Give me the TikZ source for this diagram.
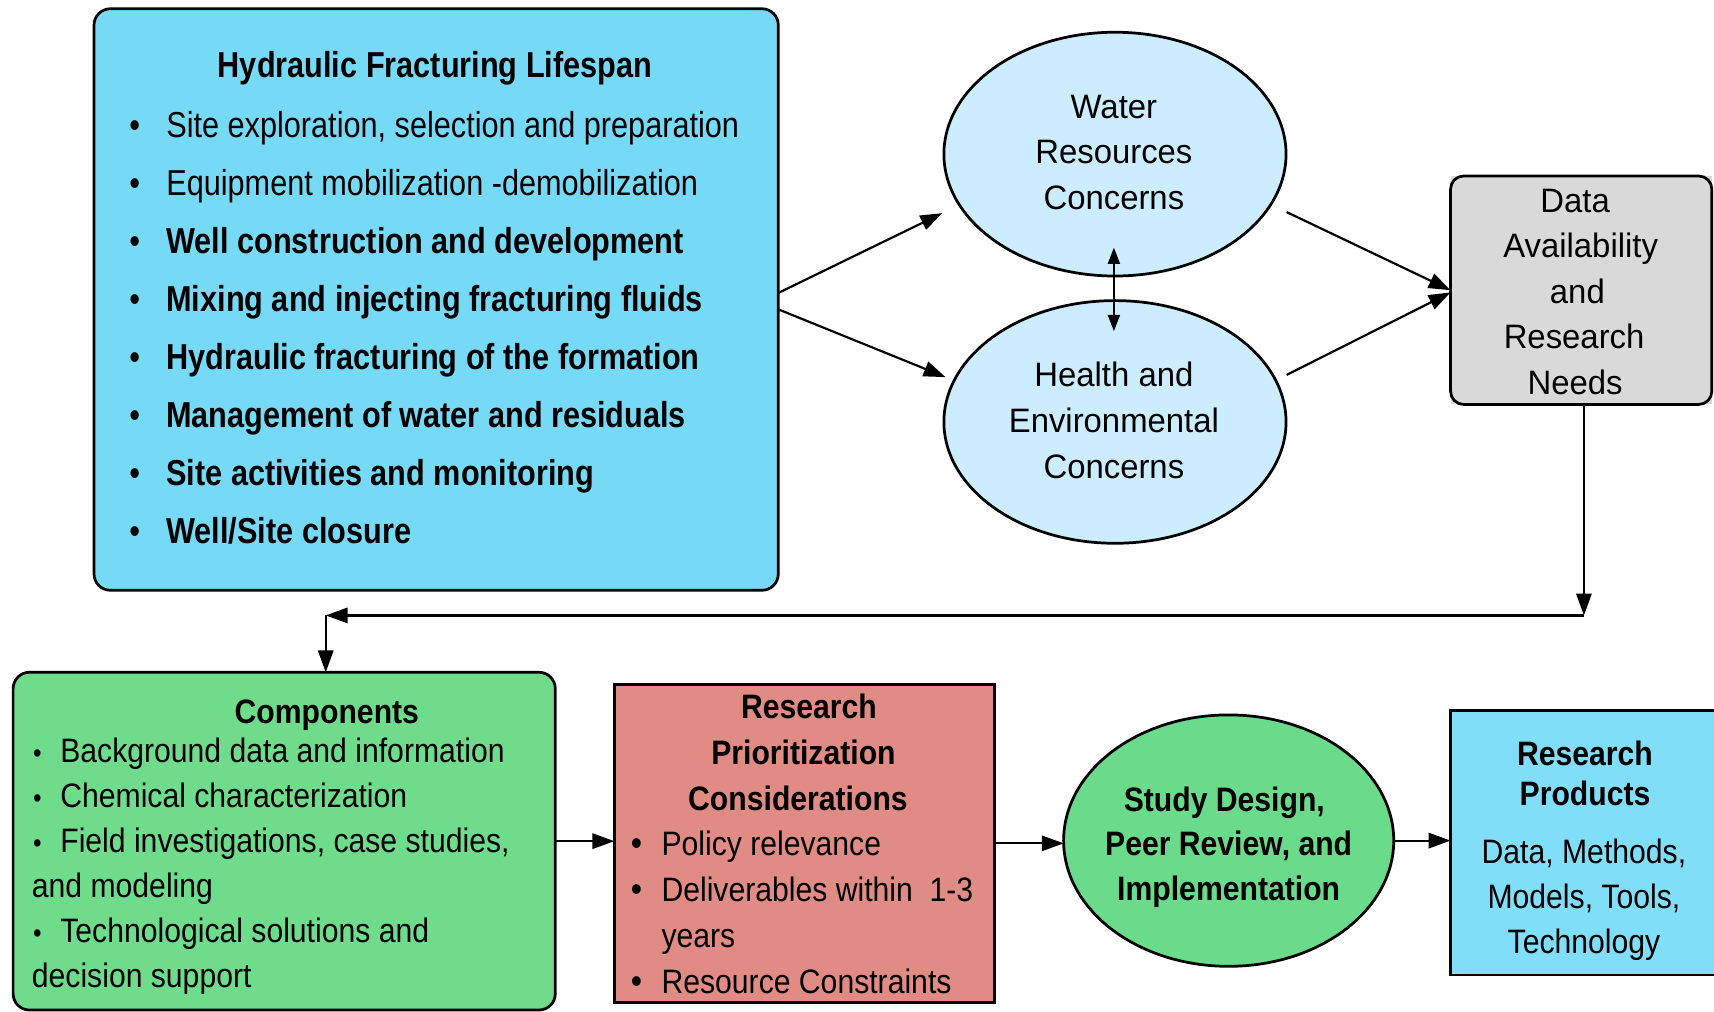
\documentclass[tikz,border=0pt]{standalone}
\usepackage{fontspec}
\setmainfont{Liberation Sans}
\newfontfamily\fA[FakeStretch=0.85]{Liberation Sans}
\newfontfamily\fB[FakeStretch=0.89]{Liberation Sans}
\newfontfamily\fC[FakeStretch=0.97]{Liberation Sans}
\usetikzlibrary{shapes.geometric,arrows.meta,calc}
\definecolor{hfblue}{RGB}{118,218,247}
\definecolor{concern}{RGB}{204,236,255}
\definecolor{dgray}{RGB}{217,217,217}
\definecolor{compgreen}{RGB}{111,220,140}
\definecolor{prred}{RGB}{224,139,132}
\definecolor{studygreen}{RGB}{106,219,138}
\definecolor{prodblue}{RGB}{128,222,248}
\newcommand{\mybul}[2]{\makebox[10pt][c]{\fontsize{#1}{#1}\selectfont\textbullet}\hspace{#2pt}}
\tikzset{
  frame/.style={draw=black,line width=2.5pt,inner sep=0pt,outer sep=0pt},
  arr/.style={line width=2pt,-{Triangle[length=20pt,width=14pt]}},
  dbl/.style={line width=2pt,{Triangle[length=15pt,width=11pt]}-{Triangle[length=15pt,width=11pt]}},
  tA/.style={inner sep=0pt,font=\fA\fontsize{33}{40}\selectfont},
  tB/.style={inner sep=0pt,font=\fB\fontsize{31}{40}\selectfont},
  tC/.style={inner sep=0pt,font=\fC\fontsize{31}{40}\selectfont},
}
\begin{document}
\begin{tikzpicture}[x=1pt,y=-1pt]
\useasboundingbox (0,0) rectangle (1568,925);
\clip (0,0) rectangle (1568,925);

% shapes
\node[frame,fill=hfblue,rounded corners=15pt,minimum width=626pt,minimum height=532pt] (hf) at (399,274) {};
\node[frame,ellipse,fill=concern,minimum width=313pt,minimum height=223pt] (wrc) at (1020,141) {};
\node[frame,ellipse,fill=concern,minimum width=313pt,minimum height=222pt] (hec) at (1020,386) {};
\node[inner sep=0pt,fill=dgray,minimum width=239pt,minimum height=209pt] (datafill) at (1446.5,265.5) {};
\node[frame,fill=dgray,rounded corners=12pt,minimum width=239pt,minimum height=209pt] (data) at (1446.5,265.5) {};
\node[frame,fill=compgreen,rounded corners=15pt,minimum width=496pt,minimum height=309pt] (comp) at (260,769.5) {};
\node[frame,fill=prred,minimum width=348pt,minimum height=291pt] (prior) at (736,771.5) {};
\node[frame,ellipse,fill=studygreen,minimum width=302pt,minimum height=230pt] (study) at (1124,769) {};
\node[frame,fill=prodblue,minimum width=250pt,minimum height=242pt] (prod) at (1452,771) {};

% Hydraulic fracturing lifespan text
\node[tA,anchor=base] (hft) at (398,71) {\bfseries Hydraulic Fracturing Lifespan};
\node[tA,anchor=base west] (hf1) at (118,126) {\mybul{33}{24}Site exploration, selection and preparation};
\node[tA,anchor=base west] (hf2) at (118,179) {\mybul{33}{24}Equipment mobilization -demobilization};
\foreach \t [count=\i from 3] in {Well construction and development,
  Mixing and injecting fracturing fluids,
  Hydraulic fracturing of the formation,
  Management of water and residuals,
  Site activities and monitoring,
  Well/Site closure}
  \node[tA,anchor=base west] (hf\i) at (118,{126+53*(\i-1)}) {\mybul{33}{24}\bfseries\t};

% concerns
\node[tC,anchor=base] (w1) at (1019,108) {Water};
\node[tC,anchor=base] (w2) at (1019,150) {Resources};
\node[tC,anchor=base] (w3) at (1019,192) {Concerns};
\node[tC,anchor=base] (h1) at (1019,354) {Health and};
\node[tC,anchor=base] (h2) at (1019,396) {Environmental};
\node[tC,anchor=base] (h3) at (1019,438) {Concerns};

% data availability
\node[tC,anchor=base] (d1) at (1441,194) {Data};
\node[tC,anchor=base] (d2) at (1446,236) {Availability};
\node[tC,anchor=base] (d3) at (1443,278) {and};
\node[tC,anchor=base] (d4) at (1440,319) {Research};
\node[tC,anchor=base] (d5) at (1441,361) {Needs};

% components
\node[tB,anchor=base] (ct) at (299,662) {\bfseries Components};
\node[tB,anchor=base west] (c1t) at (29,698) {\mybul{25}{16}Background data and information};
\node[tB,anchor=base west] (c2t) at (29,739) {\mybul{25}{16}Chemical characterization};
\node[tB,anchor=base west] (c3t) at (29,780) {\mybul{25}{16}Field investigations, case studies,};
\node[tB,anchor=base west] (c4t) at (29,821) {and modeling};
\node[tB,anchor=base west] (c5t) at (29,862) {\mybul{25}{16}Technological solutions and};
\node[tB,anchor=base west] (c6t) at (29,903) {decision support};

% research prioritization
\node[tB,anchor=base] (p1) at (740,657) {\bfseries Research};
\node[tB,anchor=base] (p2) at (735,699) {\bfseries Prioritization};
\node[tB,anchor=base] (p3) at (730,741) {\bfseries Considerations};
\node[tB,anchor=base west] (p4) at (577,783) {\mybul{33}{18}Policy relevance};
\node[tB,anchor=base west] (p5) at (577,825) {\mybul{33}{18}Deliverables within\ \ 1-3};
\node[tB,anchor=base west] (p6) at (605,867) {years};
\node[tB,anchor=base west] (p7) at (577,909) {\mybul{33}{18}Resource Constraints};

% study design
\node[tB,anchor=base] (s1) at (1120,742) {\bfseries Study Design,};
\node[tB,anchor=base] (s2) at (1124,783) {\bfseries Peer Review, and};
\node[tB,anchor=base] (s3) at (1124,824) {\bfseries Implementation};

% research products
\node[tB,anchor=base] (r1) at (1450,700) {\bfseries Research};
\node[tB,anchor=base] (r2) at (1450,737) {\bfseries Products};
\node[tB,anchor=base] (r3) at (1449,790) {Data, Methods,};
\node[tB,anchor=base] (r4) at (1449,831) {Models, Tools,};
\node[tB,anchor=base] (r5) at (1449,872) {Technology};

% connectors
\draw[arr] ([yshift=6pt]hf.east) -- ($(wrc.center)+(-158,54)$);
\draw[arr] ([yshift=-9pt]hf.east) -- ($(hec.center)+(-155,-41)$);
\draw[arr] ($(wrc.center)+(157,53)$) -- (data.west);
\draw[arr] ($(hec.center)+(157,-43)$) -- ([yshift=-2pt]data.west);
\draw[dbl] ($(wrc.south)+(-1,-26)$) -- ($(hec.north)+(-1,28)$);
\coordinate (k1) at ($(data.south)+(2.5,193)$);
\coordinate (k2) at ($(k1 -| comp.north)+(38,0)$);
\draw[arr] ([xshift=2.5pt]data.south) -- (k1);
\draw[arr] (k1) -- (k2);
\draw[arr] (k2) -- (k2 |- comp.north);
\draw[arr] (comp.east) -- (comp.east -| prior.west);
\draw[arr] (prior.east) -- (prior.east -| study.west);
\draw[arr] (study.east) -- (study.east -| prod.west);
\end{tikzpicture}
\end{document}
